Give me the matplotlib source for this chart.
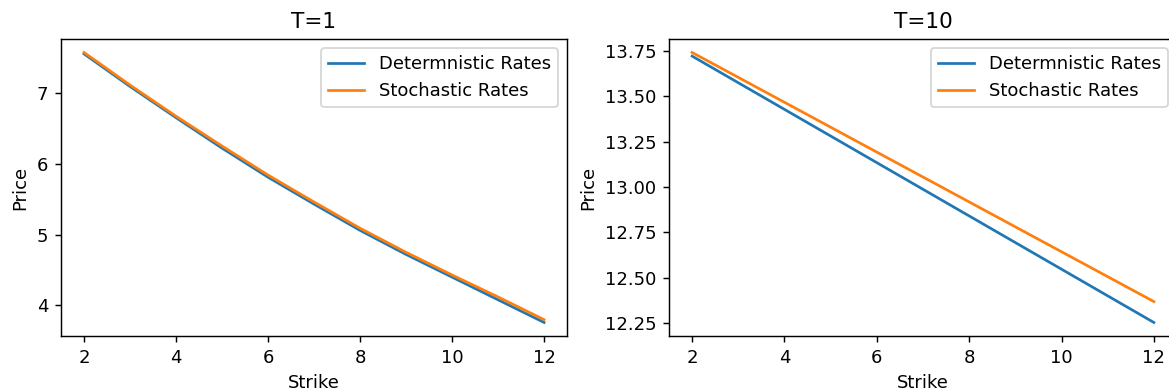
import matplotlib
matplotlib.use("Agg")
import matplotlib.pyplot as plt

strikes_t1 = [2, 3, 4, 5, 6, 7, 8, 9, 10, 11, 12]
det_t1 = [7.55, 7.09, 6.65, 6.22, 5.81, 5.43, 5.06, 4.72, 4.40, 4.08, 3.76]
sto_t1 = [7.57, 7.11, 6.67, 6.25, 5.84, 5.46, 5.09, 4.75, 4.43, 4.12, 3.80]

strikes_t10 = [2, 4, 6, 8, 10, 12]
det_t10 = [13.72, 13.427, 13.134, 12.841, 12.548, 12.255]
sto_t10 = [13.74, 13.466, 13.192, 12.918, 12.644, 12.37]

titles = ["T=1", "T=10"]
labels = ["Determnistic Rates", "Stochastic Rates"]
xticks = [2, 4, 6, 8, 10, 12]
yticks_t1 = [4, 5, 6, 7]
yticks_t10 = [12.25, 12.5, 12.75, 13.0, 13.25, 13.5, 13.75]

DPI = 130
fig = plt.figure(figsize=(1169 / DPI, 392 / DPI), dpi=DPI)
ax1 = fig.add_axes([0.0522, 0.1429, 0.4329, 0.7577])
ax2 = fig.add_axes([0.5723, 0.1429, 0.4345, 0.7577])

for ax, x, d, st, t, yt in [(ax1, strikes_t1, det_t1, sto_t1, titles[0], yticks_t1),
                            (ax2, strikes_t10, det_t10, sto_t10, titles[1], yticks_t10)]:
    ax.plot(x, d, color="#1f77b4", label=labels[0])
    ax.plot(x, st, color="#ff7f0e", label=labels[1])
    ax.set_title(t)
    ax.set_xlabel("Strike")
    ax.set_ylabel("Price")
    ax.set_xticks(xticks)
    ax.set_yticks(yt)
    ax.legend(loc="upper right")

fig.savefig("out.png", dpi=DPI)
